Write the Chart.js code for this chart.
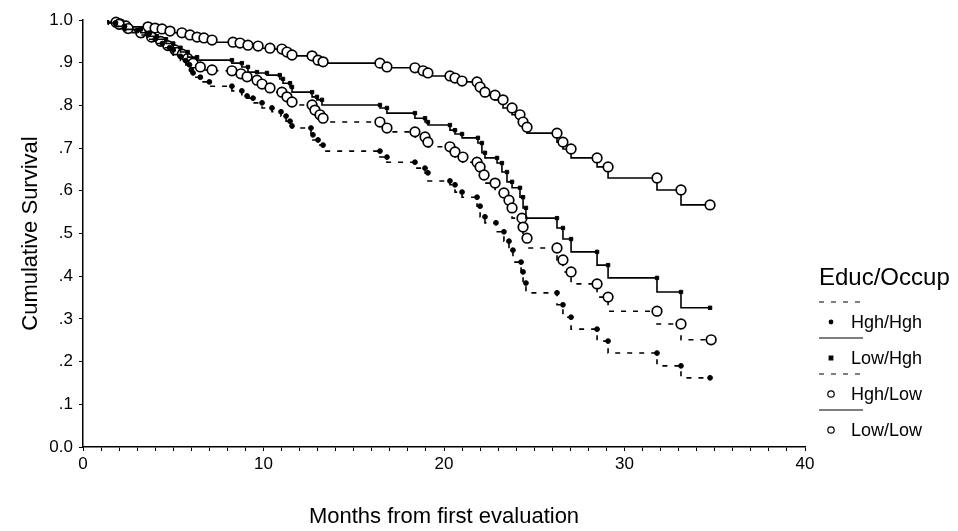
<!DOCTYPE html>
<html><head><meta charset="utf-8">
<script src="https://cdn.jsdelivr.net/npm/chart.js@4/dist/chart.umd.min.js"></script>
<style>html,body{margin:0;padding:0;background:#fff}#wrap{width:958px;height:531px}</style>
</head><body><div id="wrap"><canvas id="c"></canvas></div>
<script>
// ---- text ----
const seriesLabels = ['Hgh/Hgh', 'Low/Hgh', 'Hgh/Low', 'Low/Low'];
const legendTitle = 'Educ/Occup';
const xTitle = 'Months from first evaluation';
const yTitle = 'Cumulative Survival';
const xTickLabels = [0, 10, 20, 30, 40];
const yTickLabels = ['0.0', '.1', '.2', '.3', '.4', '.5', '.6', '.7', '.8', '.9', '1.0'];

// ---- data (months, cumulative survival) ----
const hghHghT = [1.4, 1.8, 2.3, 3.0, 3.6, 4.0, 4.4, 4.8, 5.0, 5.4, 5.7, 5.9, 6.0, 6.1, 6.5, 7.0, 8.25, 8.8, 9.09, 9.42, 9.92, 10.47, 10.97, 11.25, 11.47, 11.58, 12.63, 12.74, 13.02, 13.3, 16.45, 16.84, 18.39, 18.95, 19.11, 20.33, 20.61, 21.0, 21.83, 22.0, 22.27, 22.88, 23.32, 23.6, 23.82, 24.27, 24.38, 24.54, 26.26, 26.59, 27.04, 28.48, 29.09, 31.8, 33.13, 34.74];
const hghHghS = [1.0, 0.993, 0.985, 0.975, 0.965, 0.955, 0.945, 0.935, 0.93, 0.915, 0.905, 0.895, 0.883, 0.876, 0.866, 0.855, 0.845, 0.834, 0.822, 0.817, 0.806, 0.794, 0.785, 0.775, 0.763, 0.752, 0.747, 0.731, 0.719, 0.707, 0.693, 0.679, 0.667, 0.653, 0.642, 0.623, 0.614, 0.597, 0.585, 0.564, 0.539, 0.525, 0.504, 0.482, 0.461, 0.433, 0.410, 0.384, 0.361, 0.333, 0.304, 0.276, 0.248, 0.220, 0.190, 0.162];

const lowHghT = [1.4, 1.8, 2.3, 3.2, 3.7, 4.1, 4.6, 5.0, 5.4, 5.8, 6.32, 8.25, 8.8, 9.14, 9.64, 10.19, 10.9, 11.08, 11.47, 11.58, 12.69, 12.96, 13.24, 16.45, 16.84, 18.39, 18.95, 19.11, 20.33, 20.61, 21.0, 21.88, 22.1, 22.27, 22.94, 23.21, 23.49, 23.77, 24.21, 24.38, 24.54, 26.26, 26.59, 27.04, 28.48, 29.09, 31.8, 33.13, 34.74];
const lowHghS = [1.0, 0.993, 0.985, 0.978, 0.970, 0.962, 0.955, 0.945, 0.935, 0.925, 0.913, 0.906, 0.899, 0.890, 0.878, 0.876, 0.871, 0.862, 0.852, 0.843, 0.831, 0.820, 0.813, 0.801, 0.794, 0.782, 0.770, 0.761, 0.754, 0.742, 0.733, 0.724, 0.712, 0.689, 0.677, 0.665, 0.644, 0.621, 0.607, 0.585, 0.560, 0.536, 0.513, 0.487, 0.457, 0.426, 0.396, 0.363, 0.326];

const hghLowT = [1.4, 2.0, 2.5, 3.2, 3.8, 4.3, 4.7, 5.1, 5.5, 5.8, 6.1, 6.5, 7.15, 8.25, 8.75, 9.09, 9.64, 9.92, 10.36, 11.02, 11.3, 11.58, 12.69, 12.85, 13.13, 13.3, 16.45, 16.84, 18.39, 18.95, 19.11, 20.33, 20.61, 21.05, 21.83, 22.0, 22.22, 22.83, 23.32, 23.6, 23.77, 24.32, 24.38, 24.6, 26.26, 26.59, 27.04, 28.48, 29.09, 31.8, 33.13, 34.8];
const hghLowS = [1.0, 0.99, 0.98, 0.97, 0.96, 0.95, 0.94, 0.93, 0.92, 0.91, 0.899, 0.89, 0.883, 0.881, 0.874, 0.867, 0.859, 0.850, 0.841, 0.831, 0.820, 0.808, 0.801, 0.789, 0.778, 0.770, 0.761, 0.747, 0.738, 0.726, 0.714, 0.703, 0.691, 0.679, 0.667, 0.656, 0.637, 0.618, 0.595, 0.578, 0.560, 0.536, 0.515, 0.489, 0.466, 0.438, 0.410, 0.382, 0.351, 0.318, 0.288, 0.251];

const lowLowT = [1.4, 1.83, 2.05, 2.38, 3.6, 3.99, 4.38, 4.82, 5.48, 5.93, 6.32, 6.70, 7.15, 8.31, 8.70, 9.14, 9.70, 10.36, 11.02, 11.30, 11.58, 12.69, 13.02, 13.30, 16.45, 16.84, 18.39, 18.84, 19.11, 20.33, 20.61, 21.00, 21.83, 22.0, 22.27, 22.83, 23.27, 23.77, 24.21, 24.38, 24.60, 26.26, 26.59, 27.04, 28.48, 29.09, 31.80, 33.13, 34.74];
const lowLowS = [1.000, 0.995, 0.991, 0.986, 0.984, 0.981, 0.979, 0.974, 0.970, 0.965, 0.960, 0.958, 0.953, 0.948, 0.946, 0.941, 0.939, 0.934, 0.932, 0.925, 0.918, 0.916, 0.906, 0.902, 0.899, 0.890, 0.888, 0.881, 0.876, 0.869, 0.864, 0.857, 0.855, 0.843, 0.831, 0.824, 0.813, 0.794, 0.778, 0.761, 0.749, 0.735, 0.714, 0.698, 0.677, 0.656, 0.630, 0.602, 0.567];

const FONT = "'Liberation Sans', Arial, sans-serif";

function pts(t, s) { return t.map((x, i) => ({ x: x, y: s[i] })); }

const styles = [
  { dash: [5, 7], pointStyle: 'circle', r: 2.4, fill: '#000', lw: 1 },
  { dash: [], pointStyle: 'rect', r: 2.4, fill: '#000', lw: 1 },
  { dash: [5, 7], pointStyle: 'circle', r: 4.8, fill: '#fff', lw: 1.7 },
  { dash: [], pointStyle: 'circle', r: 4.8, fill: '#fff', lw: 1.7 }
];
const seriesData = [pts(hghHghT, hghHghS), pts(lowHghT, lowHghS), pts(hghLowT, hghLowS), pts(lowLowT, lowLowS)];

const datasets = seriesLabels.map((lab, k) => ({
  label: lab,
  data: seriesData[k],
  stepped: 'after',
  borderColor: '#000',
  borderWidth: 1.6,
  borderDash: styles[k].dash,
  pointStyle: styles[k].pointStyle,
  pointRadius: c => c.dataIndex === 0 ? 0 : styles[k].r,
  pointHoverRadius: 0,
  pointBackgroundColor: styles[k].fill,
  pointBorderColor: '#000',
  pointBorderWidth: styles[k].lw,
  fill: false,
  clip: false
}));

const kmLegend = {
  id: 'kmLegend',
  afterDraw(chart) {
    const ctx = chart.ctx;
    const x0 = chart.chartArea.right + 14;
    ctx.save();
    ctx.fillStyle = '#000';
    ctx.textBaseline = 'middle';
    ctx.textAlign = 'left';
    ctx.font = "24px " + FONT;
    ctx.fillText(legendTitle, x0, 278);
    chart.data.datasets.forEach((ds, i) => {
      const ly = 302 + i * 36;
      ctx.beginPath();
      ctx.setLineDash(ds.borderDash);
      ctx.lineWidth = 1.2;
      ctx.strokeStyle = '#000';
      ctx.moveTo(x0, ly);
      ctx.lineTo(x0 + 44, ly);
      ctx.stroke();
      ctx.setLineDash([]);
      const my = ly + 20;
      const st = styles[i];
      const r = st.r > 3 ? 3.2 : 1.8;
      ctx.beginPath();
      if (st.pointStyle === 'rect') { ctx.rect(x0 + 12 - r, my - r, 2 * r, 2 * r); }
      else { ctx.arc(x0 + 12, my, r, 0, Math.PI * 2); }
      ctx.fillStyle = st.fill;
      ctx.fill();
      ctx.lineWidth = 1.2;
      ctx.stroke();
      ctx.fillStyle = '#000';
      ctx.font = "18px " + FONT;
      ctx.fillText(ds.label, x0 + 32, my + 1);
    });
    ctx.restore();
  }
};

new Chart(document.getElementById('c'), {
  type: 'line',
  data: { datasets: datasets },
  options: {
    responsive: true,
    maintainAspectRatio: false,
    animation: false,
    layout: { padding: { top: 20, right: 153, left: 0, bottom: 0 } },
    plugins: { legend: { display: false }, tooltip: { enabled: false } },
    scales: {
      x: {
        type: 'linear', min: 0, max: 40,
        afterFit: s => { s.height = 84; },
        ticks: {
          stepSize: 1, autoSkip: false, maxRotation: 0, color: '#000', padding: 3,
          font: { family: FONT, size: 17 },
          callback: v => xTickLabels.includes(v) ? String(v) : ''
        },
        grid: { display: true, drawOnChartArea: false, drawTicks: true, tickLength: 4, color: '#000', lineWidth: 1 },
        border: { display: true, color: '#000', width: 1.5 },
        title: { display: true, text: xTitle, color: '#000', font: { family: FONT, size: 22 }, padding: { top: 0, bottom: 1 } }
      },
      y: {
        min: 0, max: 1,
        afterFit: s => { s.width = 83; },
        ticks: {
          stepSize: 0.1, color: '#000', padding: 6,
          font: { family: FONT, size: 17 },
          callback: (v, i) => yTickLabels[i]
        },
        grid: { display: true, drawOnChartArea: false, drawTicks: true, tickLength: 4, color: '#000', lineWidth: 1 },
        border: { display: true, color: '#000', width: 1.5 },
        title: { display: true, text: yTitle, color: '#000', font: { family: FONT, size: 22 }, padding: { top: 18, bottom: 0 } }
      }
    }
  },
  plugins: [kmLegend]
});
</script>
</body></html>
